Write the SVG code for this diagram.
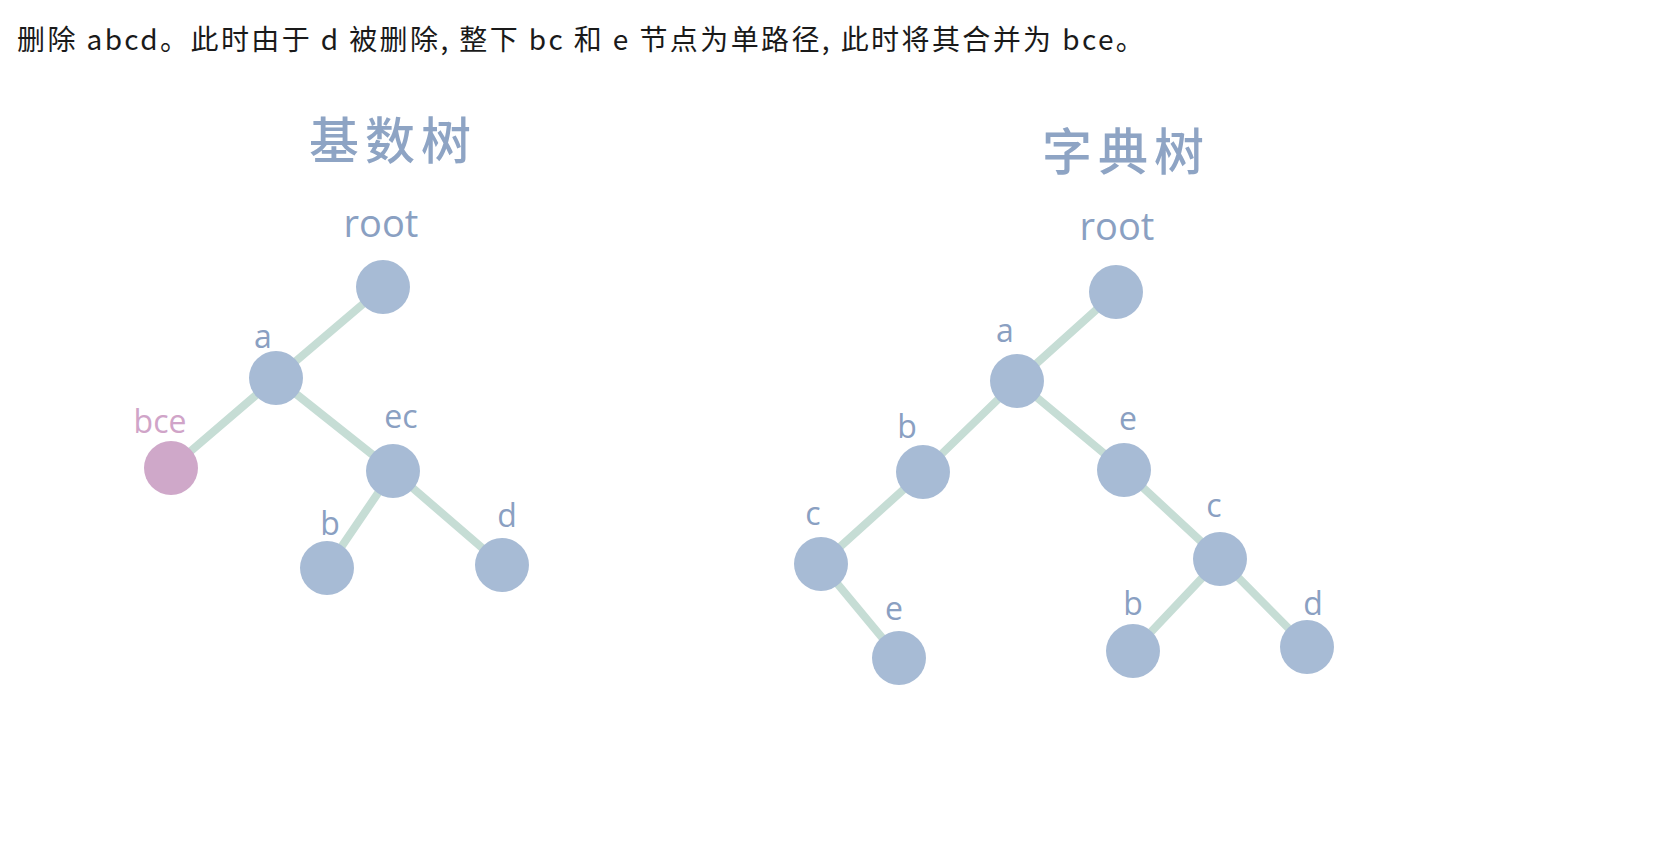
<svg xmlns="http://www.w3.org/2000/svg" width="1664" height="854" viewBox="0 0 1664 854">
<style>
.cap{font-family:"Noto Sans CJK SC","Liberation Sans",sans-serif;font-size:28px;fill:#1a1a1a;letter-spacing:2.4px}
.title{font-family:"Noto Sans CJK SC",sans-serif;font-size:50px;font-weight:500;fill:#8ea4c4;text-anchor:middle;letter-spacing:6px}
.lbl{font-family:"Open Sans","Noto Sans",sans-serif;font-size:32px;fill:#8aa0c2;text-anchor:middle}
.root{font-size:38px}
.pink{fill:#d0a4c8}
.node{fill:#a7bbd5}
.node.hl{fill:#cfa8c9}
.edge{stroke:#c6ddd5;stroke-width:8;stroke-linecap:round;fill:none}
</style>
<rect width="1664" height="854" fill="#ffffff"/>
<text class="cap" x="17" y="50">删除 abcd。此时由于 d 被删除, 整下 bc 和 e 节点为单路径, 此时将其合并为 bce。</text>
<text class="title" x="393" y="159">基数树</text>
<text class="title" x="1126" y="170">字典树</text>
<g id="connectors">
<line class="edge" x1="383" y1="287" x2="276" y2="378"/>
<line class="edge" x1="276" y1="378" x2="171" y2="468"/>
<line class="edge" x1="276" y1="378" x2="393" y2="471"/>
<line class="edge" x1="393" y1="471" x2="327" y2="568"/>
<line class="edge" x1="393" y1="471" x2="502" y2="565"/>
<line class="edge" x1="1116" y1="292" x2="1017" y2="381"/>
<line class="edge" x1="1017" y1="381" x2="923" y2="472"/>
<line class="edge" x1="1017" y1="381" x2="1124" y2="470"/>
<line class="edge" x1="923" y1="472" x2="821" y2="564"/>
<line class="edge" x1="821" y1="564" x2="899" y2="658"/>
<line class="edge" x1="1124" y1="470" x2="1220" y2="559"/>
<line class="edge" x1="1220" y1="559" x2="1133" y2="651"/>
<line class="edge" x1="1220" y1="559" x2="1307" y2="647"/>
</g>
<g id="radix-root"><circle class="node" cx="383" cy="287" r="27"/><text class="lbl root" x="381" y="237">root</text></g>
<g id="radix-a"><circle class="node" cx="276" cy="378" r="27"/><text class="lbl" x="263" y="348">a</text></g>
<g id="radix-bce"><circle class="node hl" cx="171" cy="468" r="27"/><text class="lbl pink" x="160" y="433">bce</text></g>
<g id="radix-ec"><circle class="node" cx="393" cy="471" r="27"/><text class="lbl" x="401" y="428">ec</text></g>
<g id="radix-b"><circle class="node" cx="327" cy="568" r="27"/><text class="lbl" x="330" y="535">b</text></g>
<g id="radix-d"><circle class="node" cx="502" cy="565" r="27"/><text class="lbl" x="507" y="527">d</text></g>
<g id="trie-root"><circle class="node" cx="1116" cy="292" r="27"/><text class="lbl root" x="1117" y="240">root</text></g>
<g id="trie-a"><circle class="node" cx="1017" cy="381" r="27"/><text class="lbl" x="1005" y="342">a</text></g>
<g id="trie-b"><circle class="node" cx="923" cy="472" r="27"/><text class="lbl" x="907" y="438">b</text></g>
<g id="trie-e"><circle class="node" cx="1124" cy="470" r="27"/><text class="lbl" x="1128" y="430">e</text></g>
<g id="trie-c"><circle class="node" cx="821" cy="564" r="27"/><text class="lbl" x="813" y="525">c</text></g>
<g id="trie-ce"><circle class="node" cx="899" cy="658" r="27"/><text class="lbl" x="894" y="620">e</text></g>
<g id="trie-ec"><circle class="node" cx="1220" cy="559" r="27"/><text class="lbl" x="1214" y="517">c</text></g>
<g id="trie-ecb"><circle class="node" cx="1133" cy="651" r="27"/><text class="lbl" x="1133" y="615">b</text></g>
<g id="trie-ecd"><circle class="node" cx="1307" cy="647" r="27"/><text class="lbl" x="1313" y="615">d</text></g>
</svg>
